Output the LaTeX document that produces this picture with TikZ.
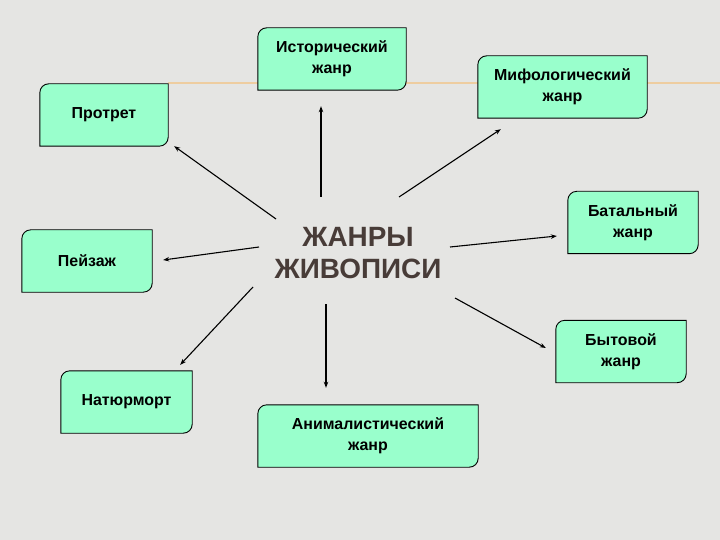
\documentclass[tikz,border=0pt]{standalone}
\usepackage{fontspec}
\setmainfont{Liberation Sans}
\usetikzlibrary{positioning,calc,arrows.meta,backgrounds}

\definecolor{paper}{RGB}{229,229,227}
\definecolor{boxgreen}{RGB}{153,255,204}
\definecolor{titlebrown}{RGB}{72,60,56}
\definecolor{ruleorange}{RGB}{238,205,160}

\tikzset{
	genre/.style={align=center, inner sep=0pt, minimum height=62bp,
		font=\fontsize{16}{21}\selectfont\bfseries},
	boxline/.style={draw=black, line width=0.9bp, fill=boxgreen},
	arr/.style={-{Stealth[length=6bp,width=4.5bp]}, line width=1.1bp}
}

% box with two round corners (upper left, lower right)
\newcommand{\genreshape}[1]{%
	\filldraw[boxline] ([shift={(0,9)}]#1.north west) .. controls ([shift={(0,4)}]#1.north west) and ([shift={(4,0)}]#1.north west) .. ([shift={(9,0)}]#1.north west)
		-- (#1.north east) -- ([shift={(0,-9)}]#1.south east) .. controls ([shift={(0,-4)}]#1.south east) and ([shift={(-4,0)}]#1.south east) .. ([shift={(-9,0)}]#1.south east)
		-- (#1.south west) -- cycle;}

\begin{document}
\begin{tikzpicture}[x=1bp, y=-1bp]
	\useasboundingbox (0,0) rectangle (720,540);
	\begin{scope}[on background layer]
		\fill[paper] (0,0) rectangle (720,540);
		\draw[ruleorange, line width=2.5bp] (168,83) -- (720,83);
	\end{scope}

	\node[font=\fontsize{28}{33}\selectfont\bfseries, text=titlebrown, align=center] (title) at (358,253) {ЖАНРЫ\\ЖИВОПИСИ};

	\node[genre, minimum width=148bp] (hist) at (332,59) {Исторический\\жанр};
	\node[genre, minimum width=128bp] (portr) at (104,115) {Протрет};
	\node[genre, minimum width=169bp] (myth) at (562.5,87) {Мифологический\\жанр};
	\node[genre, minimum width=130bp] (land) at (87,261) {Пейзаж};
	\node[genre, minimum width=130bp] (battle) at (633,222.5) {Батальный\\жанр};
	\node[genre, minimum width=130bp] (daily) at (621,351.5) {Бытовой\\жанр};
	\node[genre, minimum width=131bp] (still) at (126.5,402) {Натюрморт};
	\node[genre, minimum width=220bp] (animal) at (368,436) {Анималистический\\жанр};

	\begin{scope}[on background layer]
		\foreach \b in {hist, portr, myth, land, battle, daily, still, animal}
			\genreshape{\b};
	\end{scope}

	\draw[arr] ([shift={(-82,-34)}]title.center) -- ([shift={(6,0)}]portr.south east);
	\draw[arr] ([shift={(-37,-56)}]title.center) -- ([shift={(-11,16)}]hist.south);
	\draw[arr] ([shift={(41,-56)}]title.center) -- ([shift={(23,11)}]myth.south west);
	\draw[arr] ([shift={(-99,-6)}]title.center) -- ([shift={(11,-1)}]land.east);
	\draw[arr] ([shift={(92,-6)}]title.center) -- ([shift={(-11,13.5)}]battle.west);
	\draw[arr] ([shift={(97,45)}]title.center) -- ([shift={(-10,-3.5)}]daily.west);
	\draw[arr] ([shift={(-105,34)}]title.center) -- ([shift={(-12,-6)}]still.north east);
	\draw[arr] ([shift={(-32,51)}]title.center) -- ([shift={(-42,-17)}]animal.north);
\end{tikzpicture}
\end{document}
